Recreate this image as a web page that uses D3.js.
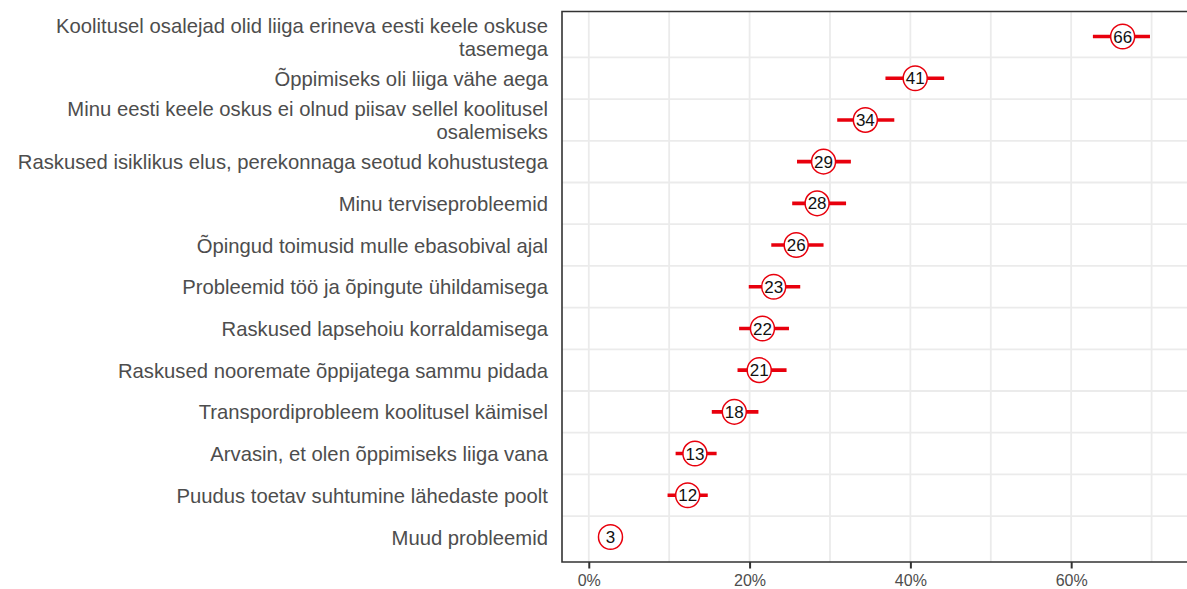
<!DOCTYPE html>
<html>
<head>
<meta charset="utf-8">
<script src="https://cdn.jsdelivr.net/npm/d3@7"></script>
<style>
  html, body { margin: 0; padding: 0; background: #ffffff; }
  svg { display: block; font-family: "Liberation Sans", Arial, sans-serif; }
</style>
</head>
<body>
<svg id="chart" width="1187" height="589"></svg>
<script>
// Reasons for difficulties during the course, share of respondents (%), with 95% intervals
const categories = [
  "Koolitusel osalejad olid liiga erineva eesti keele oskuse tasemega",
  "Õppimiseks oli liiga vähe aega",
  "Minu eesti keele oskus ei olnud piisav sellel koolitusel osalemiseks",
  "Raskused isiklikus elus, perekonnaga seotud kohustustega",
  "Minu terviseprobleemid",
  "Õpingud toimusid mulle ebasobival ajal",
  "Probleemid töö ja õpingute ühildamisega",
  "Raskused lapsehoiu korraldamisega",
  "Raskused nooremate õppijatega sammu pidada",
  "Transpordiprobleem koolitusel käimisel",
  "Arvasin, et olen õppimiseks liiga vana",
  "Puudus toetav suhtumine lähedaste poolt",
  "Muud probleemid"
];
// How each category label is broken into lines
const labelLines = [
  ["Koolitusel osalejad olid liiga erineva eesti keele oskuse", "tasemega"],
  ["Õppimiseks oli liiga vähe aega"],
  ["Minu eesti keele oskus ei olnud piisav sellel koolitusel", "osalemiseks"],
  ["Raskused isiklikus elus, perekonnaga seotud kohustustega"],
  ["Minu terviseprobleemid"],
  ["Õpingud toimusid mulle ebasobival ajal"],
  ["Probleemid töö ja õpingute ühildamisega"],
  ["Raskused lapsehoiu korraldamisega"],
  ["Raskused nooremate õppijatega sammu pidada"],
  ["Transpordiprobleem koolitusel käimisel"],
  ["Arvasin, et olen õppimiseks liiga vana"],
  ["Puudus toetav suhtumine lähedaste poolt"],
  ["Muud probleemid"]
];
const values = [66.4, 40.6, 34.4, 29.2, 28.4, 25.8, 23.0, 21.6, 21.2, 18.1, 13.2, 12.3, 2.7];
const lower  = [62.7, 36.9, 30.9, 25.9, 25.3, 22.7, 19.9, 18.7, 18.5, 15.3, 10.8, 9.8, 1.6];
const upper  = [69.8, 44.2, 38.0, 32.6, 32.0, 29.2, 26.3, 24.9, 24.6, 21.1, 15.9, 14.8, 3.9];
const xTickValues = [0, 20, 40, 60];
const xTickLabels = ["0%", "20%", "40%", "60%"];

const rows = categories.map((c, i) => ({
  cat: c, lines: labelLines[i], value: values[i], lo: lower[i], hi: upper[i]
}));

const svg = d3.select("#chart");
const panel = { left: 562, right: 1195, top: 11.5, bottom: 562 };

const x = d3.scaleLinear().domain([-3.33, 75.4]).range([panel.left, panel.right]);
const y = d3.scalePoint().domain(categories).range([panel.top, panel.bottom]).padding(0.6);
const step = y.step();

const red = "#e8000d";
const gridColor = "#ebebeb";
const textGrey = "#4d4d4d";

// panel background
svg.append("rect")
  .attr("x", panel.left).attr("y", panel.top)
  .attr("width", panel.right - panel.left).attr("height", panel.bottom - panel.top)
  .attr("fill", "#ffffff");

// vertical grid every 10 %
const gridG = svg.append("g");
gridG.selectAll("line.v")
  .data(d3.range(0, 80, 10))
  .join("line")
  .attr("x1", d => x(d)).attr("x2", d => x(d))
  .attr("y1", panel.top).attr("y2", panel.bottom)
  .attr("stroke", gridColor).attr("stroke-width", 1.8);

// horizontal grid between categories
gridG.selectAll("line.h")
  .data(categories.slice(0, -1))
  .join("line")
  .attr("x1", panel.left).attr("x2", panel.right)
  .attr("y1", d => y(d) + step / 2).attr("y2", d => y(d) + step / 2)
  .attr("stroke", gridColor).attr("stroke-width", 1.8);

// interval bars
svg.append("g").selectAll("line")
  .data(rows)
  .join("line")
  .attr("x1", d => x(d.lo)).attr("x2", d => x(d.hi))
  .attr("y1", d => y(d.cat)).attr("y2", d => y(d.cat))
  .attr("stroke", red).attr("stroke-width", 3.6);

// value badges
const badge = svg.append("g").selectAll("g")
  .data(rows)
  .join("g")
  .attr("transform", d => `translate(${x(d.value)},${y(d.cat)})`);
badge.append("ellipse")
  .attr("rx", 12)
  .attr("ry", 12.3)
  .attr("fill", "#ffffff")
  .attr("stroke", red)
  .attr("stroke-width", 1.5);
badge.append("text")
  .attr("text-anchor", "middle")
  .attr("dy", "0.36em")
  .attr("font-size", 17)
  .attr("font-family", "'Liberation Sans Narrow', 'Arial Narrow', 'Liberation Sans', sans-serif")
  .attr("fill", "#111111")
  .text(d => Math.round(d.value));

// panel border
svg.append("path")
  .attr("d", `M${panel.right},${panel.top}H${panel.left}V${panel.bottom}H${panel.right}`)
  .attr("fill", "none")
  .attr("stroke", "#333333")
  .attr("stroke-width", 1.6);

// x axis
const xAxis = d3.axisBottom(x)
  .tickValues(xTickValues)
  .tickFormat((d, i) => xTickLabels[i])
  .tickSize(6.5)
  .tickPadding(6);
const xg = svg.append("g")
  .attr("transform", `translate(0,${panel.bottom})`)
  .call(xAxis);
xg.select(".domain").remove();
xg.selectAll(".tick line").attr("stroke", "#333333").attr("stroke-width", 2);
xg.selectAll(".tick text")
  .attr("fill", textGrey)
  .attr("font-size", 16)
  .attr("font-family", "Liberation Sans, Arial, sans-serif");

// y axis labels
const yAxis = d3.axisLeft(y).tickSize(0).tickPadding(14).tickFormat(() => "");
const yg = svg.append("g")
  .attr("transform", `translate(${panel.left},0)`)
  .call(yAxis);
yg.select(".domain").remove();
yg.selectAll(".tick text").each(function (d, i) {
  const t = d3.select(this)
    .attr("fill", textGrey)
    .attr("font-size", 20.25)
    .attr("font-family", "Liberation Sans, Arial, sans-serif")
    .attr("text-anchor", "end")
    .attr("dy", null);
  const lines = labelLines[categories.indexOf(d)];
  const lh = 23;
  const start = -(lines.length - 1) * lh / 2;
  lines.forEach((ln, k) => {
    t.append("tspan")
      .attr("x", -14)
      .attr("y", start + k * lh)
      .attr("dy", "0.35em")
      .text(ln);
  });
});
</script>
</body>
</html>
